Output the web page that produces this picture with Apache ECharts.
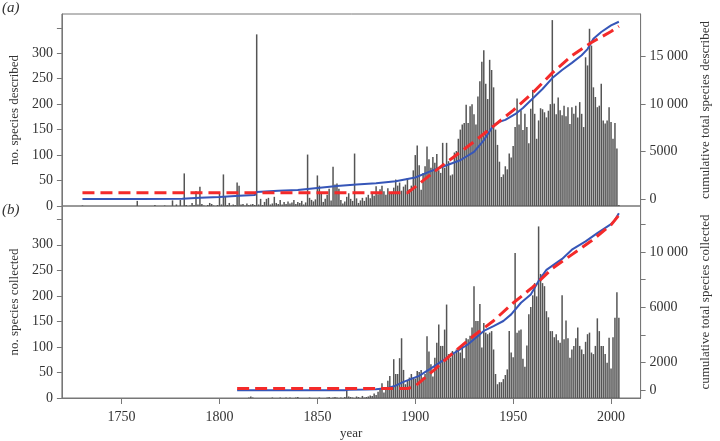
<!DOCTYPE html>
<html>
<head>
<meta charset="utf-8">
<script src="https://cdn.jsdelivr.net/npm/echarts@6/dist/echarts.min.js"></script>
<style>
  html, body { margin: 0; padding: 0; background: #fff; }
  #main { width: 720px; height: 441px; }
</style>
</head>
<body>
<div id="main"></div>
<script>
// (a) species described per year, 1730-2004
var describedStart = 1730;
var described = [
  1, 0, 0, 0, 0, 0, 0, 0, 0, 0,
  0, 0, 0, 0, 0, 0, 0, 0, 0, 0,
  0, 0, 0, 0, 0, 0, 0, 0, 10, 0,
  0, 0, 0, 0, 0, 0, 0, 2, 0, 0,
  0, 0, 1, 0, 0, 0, 11, 0, 3, 0,
  12, 0, 64, 2, 0, 1, 6, 2, 29, 3,
  38, 4, 1, 0, 2, 6, 4, 1, 0, 2,
  26, 3, 62, 18, 2, 6, 1, 3, 2, 46,
  40, 3, 4, 1, 5, 2, 3, 4, 2, 337,
  3, 14, 2, 8, 14, 16, 3, 5, 18, 6,
  4, 12, 3, 8, 4, 9, 5, 7, 12, 4,
  8, 6, 10, 3, 7, 101, 16, 12, 9, 13,
  60, 40, 26, 8, 14, 22, 34, 11, 77, 42,
  44, 34, 12, 5, 9, 18, 25, 14, 10, 103,
  15, 6, 11, 16, 10, 17, 22, 15, 25, 20,
  39, 23, 33, 40, 29, 22, 35, 25, 28, 36,
  52, 40, 46, 30, 38, 42, 55, 33, 40, 70,
  100, 119, 80, 32, 65, 78, 117, 92, 75, 96,
  85, 102, 70, 65, 124, 75, 124, 88, 60, 62,
  105, 108, 132, 150, 160, 163, 199, 163, 196, 200,
  180, 160, 215, 245, 283, 306, 240, 210, 287, 267,
  233, 150, 120, 87, 57, 62, 78, 72, 103, 95,
  118, 155, 211, 160, 188, 149, 181, 155, 123, 191,
  228, 181, 132, 168, 192, 190, 184, 174, 187, 200,
  365, 201, 180, 213, 188, 178, 197, 176, 194, 161,
  194, 181, 197, 174, 204, 181, 155, 292, 276, 348,
  315, 233, 214, 194, 197, 240, 168, 162, 168, 194,
  165, 132, 163, 113, 2
];

// (b) species collected per year, 1810-2004
var collectedStart = 1810;
var collected = [
  0, 0, 0, 0, 0, 1, 3, 1, 0, 0,
  0, 0, 0, 0, 0, 0, 0, 1, 0, 0,
  0, 1, 0, 0, 1, 0, 1, 0, 0, 1,
  2, 0, 0, 0, 0, 0, 1, 0, 0, 0,
  0, 1, 0, 0, 0, 1, 2, 0, 1, 2,
  1, 0, 1, 0, 2, 14, 3, 2, 1, 0,
  3, 2, 0, 4, 1, 2, 3, 5, 4, 9,
  6, 12, 17, 29, 11, 17, 34, 43, 18, 76,
  47, 47, 78, 117, 55, 27, 34, 40, 47, 40,
  38, 53, 51, 55, 40, 47, 121, 91, 66, 42,
  79, 108, 144, 102, 102, 134, 183, 86, 79, 92,
  86, 95, 92, 89, 102, 78, 117, 115, 122, 138,
  219, 151, 151, 184, 99, 147, 128, 125, 128, 131,
  95, 47, 27, 31, 31, 37, 45, 56, 131, 89,
  80, 284, 128, 132, 134, 77, 61, 103, 164, 178,
  201, 225, 199, 336, 243, 225, 219, 170, 158, 131,
  131, 119, 125, 113, 108, 201, 115, 152, 117, 79,
  95, 102, 117, 138, 102, 95, 86, 110, 125, 128,
  89, 86, 102, 156, 131, 102, 102, 86, 69, 118,
  58, 119, 157, 207, 157
];

// cumulative curves: [year, total]
var cumDescribedObs = [
  [1730, 10], [1760, 20], [1781, 60], [1790, 160], [1800, 240], [1810, 350],
  [1818, 430], [1819, 770], [1830, 880], [1840, 980], [1850, 1190], [1860, 1380],
  [1870, 1550], [1880, 1680], [1890, 1900], [1900, 2280], [1907, 2880], [1915, 3500],
  [1923, 4100], [1930, 4980], [1935, 6200], [1940, 7790], [1943, 8150], [1946, 8350],
  [1951, 8950], [1955, 9600], [1960, 10600], [1965, 11600], [1970, 12750], [1975, 13600],
  [1980, 14350], [1985, 15150], [1988, 15800], [1991, 16900], [1995, 17600], [2000, 18300],
  [2004, 18680]
];
var cumDescribedFit = [
  [1730, 680], [1896, 680], [1900, 1300], [1910, 2950], [1920, 4500], [1930, 6050],
  [1940, 7700], [1950, 9350], [1960, 11200], [1970, 13300], [1980, 15100], [1990, 16500],
  [2000, 17650], [2004, 18200]
];
var cumCollectedObs = [
  [1809, 0], [1864, 0], [1866, 20], [1875, 40], [1880, 70], [1886, 150], [1890, 320],
  [1894, 600], [1902, 1030], [1910, 1750], [1918, 2520], [1927, 3320], [1935, 4280],
  [1940, 4630], [1945, 5000], [1949, 5480], [1954, 6320], [1959, 6920], [1963, 7900],
  [1967, 8700], [1975, 9490], [1980, 10160], [1987, 10760], [1993, 11360], [2000, 12000],
  [2002, 12300], [2004, 12800]
];
var cumCollectedFit = [
  [1809, 110], [1896, 110], [1900, 300], [1910, 1510], [1920, 2780], [1930, 3950],
  [1940, 5020], [1950, 6300], [1960, 7450], [1970, 8800], [1980, 9800], [1990, 10800],
  [2000, 11950], [2004, 12650]
];

var yearTicks = [1750, 1800, 1850, 1900, 1950, 2000];
var countTicks = [0, 50, 100, 150, 200, 250, 300, 350];
var countLabels = [0, 50, 100, 150, 200, 250, 300];
var cumTicksA = [0, 5000, 10000, 15000];
var cumTicksB = [0, 2000, 4000, 6000, 8000, 10000, 12000];
var cumLabelsB = [0, 2000, 6000, 10000];

var FONT = '"Liberation Serif", "Times New Roman", serif';
var TXT = '#333';
var AX = '#777';

function pairs(start, arr) {
  return arr.map(function (v, i) { return [start + i, v]; });
}
function thousands(v) {
  if (v >= 10000) return Math.floor(v / 1000) + ' ' + ('00' + (v % 1000)).slice(-3);
  return String(v);
}
function plain(v) { return String(v); }

var labelStyle = { fontFamily: FONT, fontSize: 14, color: TXT };
var nameStyle = { fontFamily: FONT, fontSize: 13, color: TXT };

function countAxis(grid, name) {
  return {
    type: 'value', gridIndex: grid, position: 'left', min: 0, max: grid === 0 ? 377 : 376,
    name: name, nameLocation: 'middle', nameGap: 38, nameTextStyle: nameStyle,
    axisLine: { show: true, lineStyle: { color: AX } },
    axisTick: { show: true, length: 5, customValues: countTicks, lineStyle: { color: AX } },
    axisLabel: Object.assign({ margin: 9, customValues: countLabels, formatter: plain }, labelStyle),
    splitLine: { show: false }
  };
}
function cumAxis(grid, name, min, max, ticks, labels) {
  return {
    type: 'value', gridIndex: grid, position: 'right', min: min, max: max,
    name: name, nameLocation: 'middle', nameGap: 50, nameRotate: 90, nameTextStyle: nameStyle,
    axisLine: { show: true, lineStyle: { color: AX } },
    axisTick: { show: true, length: 5, customValues: ticks, lineStyle: { color: AX } },
    axisLabel: Object.assign({ margin: 9, customValues: labels, formatter: thousands }, labelStyle),
    splitLine: { show: false }
  };
}

var myChart = echarts.init(document.getElementById('main'));

var option = {
  animation: false,
  backgroundColor: '#fff',
  grid: [
    { left: 52, right: 62, top: 14, height: 192, show: true, borderColor: AX, borderWidth: 1 },
    { left: 52, right: 62, top: 206, height: 193, show: true, borderColor: AX, borderWidth: 1 }
  ],
  xAxis: [
    {
      type: 'value', gridIndex: 0, min: 1719.5, max: 2015.1,
      axisLine: { show: false }, axisTick: { show: false }, axisLabel: { show: false },
      splitLine: { show: false }
    },
    {
      type: 'value', gridIndex: 1, min: 1719.5, max: 2015.1,
      name: 'year', nameLocation: 'middle', nameGap: 29, nameTextStyle: nameStyle,
      axisLine: { show: true, lineStyle: { color: AX } },
      axisTick: { show: true, length: 6, customValues: yearTicks, lineStyle: { color: AX } },
      axisLabel: Object.assign({ margin: 12, customValues: yearTicks, formatter: plain }, labelStyle),
      splitLine: { show: false }
    }
  ],
  yAxis: [
    countAxis(0, 'no. species described'),
    cumAxis(0, 'cumulative total species described', -716, 19495, cumTicksA, cumTicksA),
    countAxis(1, 'no. species collected'),
    cumAxis(1, 'cumulative total species collected', -568, 13317, cumTicksB, cumLabelsB)
  ],
  graphic: [
    { type: 'text', left: 2, top: 1, style: { text: '(a)', font: 'italic 15px "Liberation Serif"', fill: TXT } },
    { type: 'text', left: 2, top: 203, style: { text: '(b)', font: 'italic 15px "Liberation Serif"', fill: TXT } }
  ],
  series: [
    {
      name: 'described', type: 'bar', xAxisIndex: 0, yAxisIndex: 0,
      barWidth: 1.5, itemStyle: { color: '#555' },
      data: pairs(describedStart, described)
    },
    {
      name: 'cum described', type: 'line', xAxisIndex: 0, yAxisIndex: 1,
      symbol: 'none', lineStyle: { color: '#3656b8', width: 2 },
      data: cumDescribedObs
    },
    {
      name: 'fit described', type: 'line', xAxisIndex: 0, yAxisIndex: 1,
      symbol: 'none', lineStyle: { color: '#f42a2a', width: 3, type: [12, 6] },
      data: cumDescribedFit
    },
    {
      name: 'collected', type: 'bar', xAxisIndex: 1, yAxisIndex: 2,
      barWidth: 1.5, itemStyle: { color: '#555' },
      data: pairs(collectedStart, collected)
    },
    {
      name: 'cum collected', type: 'line', xAxisIndex: 1, yAxisIndex: 3,
      symbol: 'none', lineStyle: { color: '#3656b8', width: 2 },
      data: cumCollectedObs
    },
    {
      name: 'fit collected', type: 'line', xAxisIndex: 1, yAxisIndex: 3,
      symbol: 'none', lineStyle: { color: '#f42a2a', width: 3, type: [12, 6] },
      data: cumCollectedFit
    }
  ]
};

myChart.setOption(option);
</script>
</body>
</html>
